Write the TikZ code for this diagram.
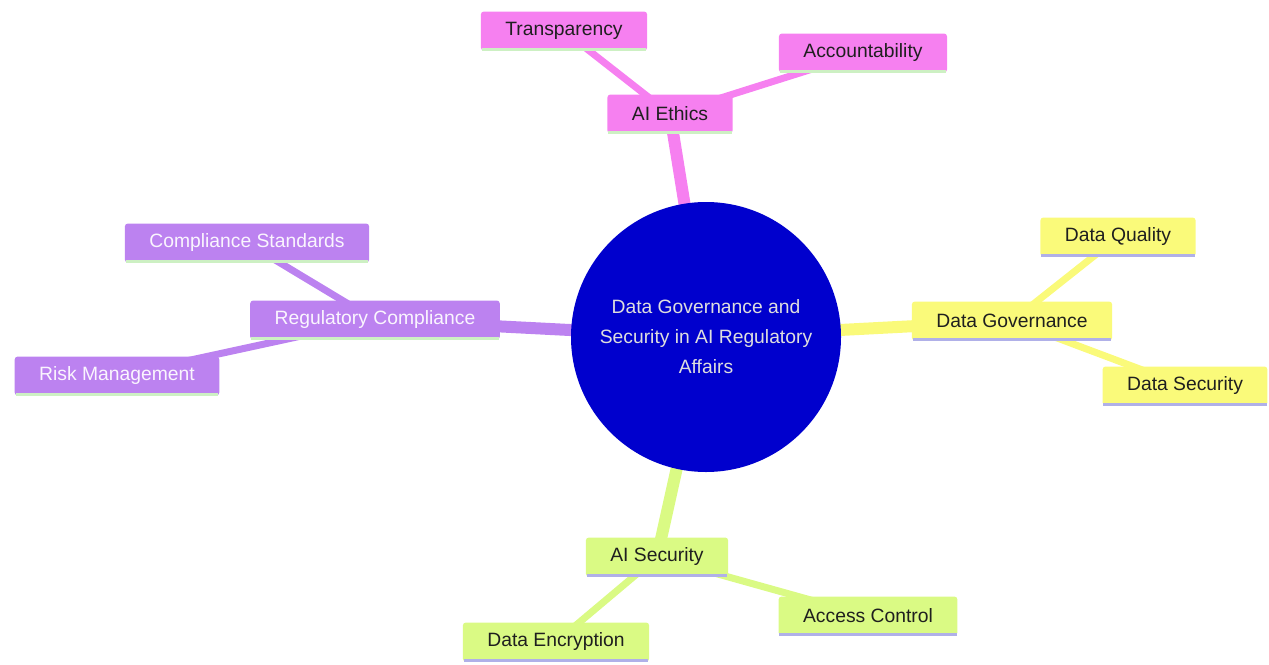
\documentclass[tikz,border=0pt]{standalone}
\usepackage{fontspec}
\setmainfont{Liberation Sans}
\usetikzlibrary{backgrounds}
\definecolor{E}{RGB}{246,128,240}
\definecolor{G}{RGB}{250,250,122}
\definecolor{S}{RGB}{218,250,132}
\definecolor{R}{RGB}{188,130,240}
\definecolor{C}{RGB}{0,0,205}
\definecolor{footG}{RGB}{205,240,195}
\definecolor{footL}{RGB}{176,176,232}
\newcommand{\drawfoot}[2]{\draw[line width=3pt,#2] ([xshift=1pt,yshift=1.5pt]#1.south west)--([xshift=-1pt,yshift=1.5pt]#1.south east);}

\begin{document}
\begin{tikzpicture}[x=1pt,y=-1pt,
    hub/.style={circle,fill=C,text=black!13,minimum size=270pt,align=center,
        font=\fontsize{19.3}{30}\selectfont},
    idea/.style={rounded corners=3pt,inner xsep=24.5pt,inner ysep=0pt,minimum height=39pt,
        font=\fontsize{19.3}{22}\selectfont,text=black!88},
    trunk/.style={line width=12pt},
    twig/.style={line width=7pt}]
\useasboundingbox (0,0) rectangle (1269,664);
\node[hub] (core) at (706,337) {Data Governance and\\Security in AI Regulatory\\Affairs};
% AI ethics
\node[idea,fill=E] (ethics) at (670,114) {AI Ethics};
\node[idea,fill=E] (transp) at (564,31) {Transparency};
\node[idea,fill=E] (account) at (863,53) {Accountability};
% data governance
\node[idea,fill=G] (govern) at (1012,321) {Data Governance};
\node[idea,fill=G] (quality) at (1118,237) {Data Quality};
\node[idea,fill=G] (datasec) at (1185,386) {Data Security};
% AI security
\node[idea,fill=S] (aisec) at (657,557) {AI Security};
\node[idea,fill=S] (access) at (868,616) {Access Control};
\node[idea,fill=S] (encrypt) at (556,642) {Data Encryption};
% regulatory compliance
\node[idea,fill=R,text=white!92!R] (regul) at (375,320) {Regulatory Compliance};
\node[idea,fill=R,text=white!92!R] (standards) at (247,243) {Compliance Standards};
\node[idea,fill=R,text=white!92!R] (risk) at (117,376) {Risk Management};
\drawfoot{ethics}{footG}\drawfoot{transp}{footG}\drawfoot{account}{footG}
\drawfoot{regul}{footG}\drawfoot{standards}{footG}\drawfoot{risk}{footG}
\drawfoot{govern}{footL}\drawfoot{quality}{footL}\drawfoot{datasec}{footL}
\drawfoot{aisec}{footL}\drawfoot{access}{footL}\drawfoot{encrypt}{footL}
\begin{pgfonlayer}{background}
\draw[trunk,E] (core.center)--(ethics.center);
\draw[trunk,G] (core.center)--(govern.center);
\draw[trunk,S] (core.center)--(aisec.center);
\draw[trunk,R] (core.center)--(regul.center);
\draw[twig,E] (ethics.center)--(transp.center);
\draw[twig,E] (ethics.center)--(account.center);
\draw[twig,G] (govern.center)--(quality.center);
\draw[twig,G] (govern.center)--(datasec.center);
\draw[twig,S] (aisec.center)--(access.center);
\draw[twig,S] (aisec.center)--(encrypt.center);
\draw[twig,R] (regul.center)--(standards.center);
\draw[twig,R] (regul.center)--(risk.center);
\end{pgfonlayer}
\end{tikzpicture}
\end{document}
